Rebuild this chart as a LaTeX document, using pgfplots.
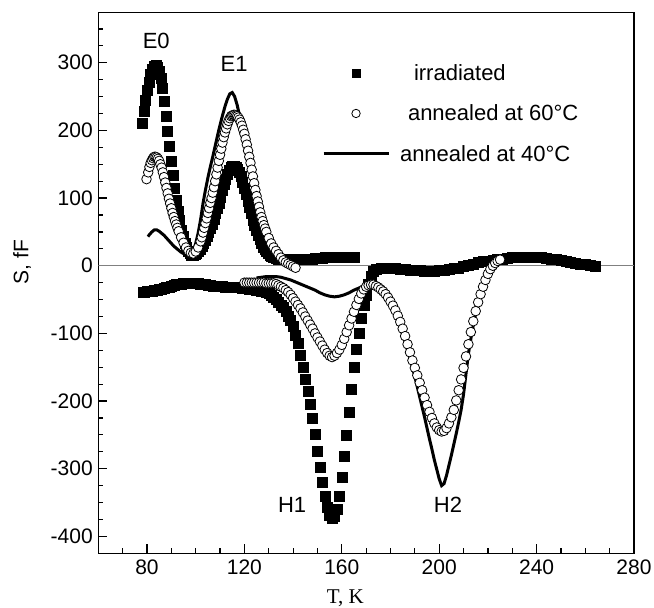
\documentclass[border=0pt]{standalone}
\usepackage{fontspec}
\setmainfont{Liberation Sans}
\newfontfamily\timesfont{Liberation Serif}
\usepackage{pgfplots}
\pgfplotsset{compat=1.18}
\begin{document}
\begin{tikzpicture}
\begin{axis}[
  scale only axis, width=535.7bp, height=540.6bp,
  xmin=60, xmax=280, ymin=-425, ymax=374,
  xtick={80,120,...,280}, minor xtick={70,80,...,270},
  ytick={-400,-300,...,300}, minor ytick={-375,-350,...,350},
  tick pos=left, tick align=inside,
  major tick length=9bp, minor tick length=5bp,
  axis line style={line width=1.4bp},
  every tick/.style={black, line width=1.2bp},
  /pgf/number format/assume math mode=true,
  tick label style={font=\fontsize{21bp}{25bp}\selectfont},
  xticklabel style={yshift=-3bp},
  yticklabel style={xshift=-2bp},
  xlabel={\timesfont T, K},
  xlabel style={at={(axis description cs:0.461,-0.0827)}, anchor=center, font=\fontsize{21bp}{25bp}\selectfont},
  ylabel={S, fF},
  ylabel style={at={(axis description cs:-0.142,0.539)}, anchor=center, font=\fontsize{21bp}{25bp}\selectfont},
  legend style={draw=none, fill=none, inner sep=0pt, at={(axis cs:151.8,298)}, anchor=north west,
    font=\fontsize{22bp}{26bp}\selectfont, row sep=23bp, column sep=10bp, nodes={inner sep=0pt}},
  legend cell align=left,
  legend image code/.code={\draw[mark repeat=2,mark phase=2,#1] plot coordinates {(0bp,0bp) (32.5bp,0bp) (65bp,0bp)};},
]
\addplot[gray, line width=0.8bp, forget plot] coordinates {(60,0) (280,0)};

% irradiated, upper branch
\addplot[only marks, mark=square*, mark size=5bp, black, forget plot] table {
78.0 210
78.7 228
79.4 245
80.1 259
80.8 272
81.5 283
82.2 290
82.9 295
83.6 296
84.3 294
85.0 288
85.7 277
86.4 262
87.1 243
87.8 221
88.5 199
89.2 177
89.9 155
90.6 134
91.3 115
92.0 97
92.7 81
93.4 67
94.1 53
94.8 43
95.5 34
96.2 27
96.9 22
97.6 18
98.3 16
99.0 16
99.7 17
100.4 19
101.1 22
101.8 25
102.5 29
103.2 33
103.9 38
104.6 43
105.3 49
106.0 55
106.7 62
107.4 69
108.1 77
108.8 85
109.5 93
110.2 102
110.9 111
111.6 120
112.3 128
113.0 135
113.7 141
114.4 145
115.1 147
115.8 147
116.5 146
117.2 143
117.9 138
118.6 132
119.3 124
120.0 115
120.7 106
121.4 96
122.1 86
122.8 77
123.5 68
124.2 60
124.9 52
125.6 45
126.3 39
127.0 33
127.7 28
128.4 24
129.1 21
129.8 18
130.5 16
131.2 14
132 12
133 11
134 10
135 9
136 9
137 9
138 9
139 9
140 9
141 9
142 9
143 10
144 10
145 10
146 10
147 10
148 10
149 11
150 11
151 11
152 11
153 12
154 12
155 12
156 12
157 12
158 12
159 13
160 13
161 13
162 13
163 13
164 13
165 13
};

% irradiated, lower branch
\addplot[only marks, mark=square*, mark size=5bp, black, forget plot] table {
78.5 -39
79 -38.5
80 -38
81 -37.5
82 -37
83 -36.5
84 -36
85 -35
86 -34
87 -33
88 -32
89 -31
90 -30
91 -29
92 -28
93 -27.5
94 -27
95 -26.5
96 -26
97 -26
98 -26
99 -26
100 -26
101 -26.5
102 -27
103 -27.5
104 -28
105 -28.5
106 -29
107 -29.5
108 -30
109 -30
110 -30
111 -30.5
112 -31
113 -31
114 -31
115 -31.5
116 -32
117 -32
118 -32
119 -32.5
120 -33
121 -33.5
122 -34
123 -34.5
124 -35
125 -35.5
126 -36
127 -37
128 -38
129 -39.5
130 -41
131 -43
132 -46
133 -50
134 -54
135 -58
136 -62
137 -67
138 -74
139 -81
140 -90
141 -102
142 -115
143 -132
144 -150
145 -168
146 -186
147 -204
148 -226
149 -249
150 -274
151 -298
152 -320
153 -341
154 -357
155 -368
156 -373
157 -370
158 -360
159 -340
160 -312
161 -282
162 -250
163 -217
164 -182
165 -150
166 -124
167 -100
168 -77
169 -58
170 -43
171 -28
172 -15
173 -8
174 -5
176 -4
178 -4
180 -4
182 -4
184 -5
186 -5
188 -6
190 -7
192 -7
194 -8
196 -8
198 -8
200 -7
202 -6
204 -5
206 -4
208 -3
210 -1
212 1
214 3
216 5
218 6
220 7
222 8
224 9
226 10
228 11
230 12
232 12
234 13
236 13
238 13
240 12
242 12
244 11
246 10
248 9
250 8
252 6
254 5
256 4
258 3
260 2
262 1
264 0
};

% annealed at 40 C, upper branch
\addplot[black, line width=3bp, forget plot] table {
80.4 43
81 46
82 50
83 53
84 53
85 51
86 48
87 45
88 41
89 37
90 33
91 29
92 26
93 23
94 20
95 18
96 16
97 15
98 15
99 22
100 33
101 48
102 68
103 92
104 112
105 130
106 146
107 161
108 177
109 193
110 208
111 222
112 235
113 246
114 254
115 256
116 250
117 238
118 222
119 205
120 190
121 174
122 157
123 139
124 120
125 102
126 86
127 71
128 59
129 49
130 40
131 32
132 26
134 17
136 10
138 6
140 4
};

% annealed at 40 C, lower branch
\addplot[black, line width=3bp, forget plot] table {
125 -18
127 -17
129 -16
131 -16
133 -16
135 -17
137 -19
139 -21
141 -24
143 -27
145 -30
147 -33
149 -36
151 -40
153 -43
155 -45
157 -46
159 -45
161 -43
163 -40
165 -36
167 -33
169 -30
171 -28
172 -28
173 -28
174 -30
175 -32
176 -35
177 -39
178 -44
179 -50
180 -57
181 -64
182 -72
183 -82
184 -92
185 -102
186 -113
187 -125
188 -137
189 -150
190 -164
191 -179
192 -194
193 -209
194 -224
195 -240
196 -256
197 -271
198 -287
199 -301
200 -315
201 -325
202 -322
203 -310
204 -295
205 -280
206 -264
207 -248
208 -231
209 -213
210 -190
211 -160
212 -130
213 -108
214 -88
215 -70
216 -55
217 -42
218 -30
219 -20
220 -11
221 -5
222 -1
};

% annealed at 60 C, upper branch
\addplot[only marks, mark=*, mark size=4.8bp, mark options={fill=white, draw=black, line width=0.8bp}, forget plot] table {
79.8 128
80.5 138
81.0 146
81.5 152
82.0 156
82.5 159
83.0 161
83.5 161
84.0 160
84.5 158
85.0 155
85.5 150
86.0 145
86.5 138
87.0 131
87.5 123
88.0 115
88.5 107
89.0 99
89.5 92
90.0 85
90.5 78
91.0 72
91.5 66
92.0 61
92.5 56
93.0 51
94 42
95 34
96 27
97 22
98 19
99 18
100 21
101 27
102 36
102.5 42
103 49
103.5 56
104 63
104.5 70
105 78
105.5 85
106 93
106.5 100
107 108
107.5 116
108 125
108.5 135
109 145
109.5 155
110 164
110.5 173
111 182
111.5 190
112 197
112.5 203
113 209
113.5 214
114 218
114.5 221
115 222
115.5 223
116 223
116.5 222
117 221
117.5 219
118 216
118.5 212
119 207
119.5 201
120 195
120.5 187
121 179
121.5 170
122 161
122.5 152
123 142
123.5 132
124 122
124.5 112
125 103
125.5 95
126 87
126.5 79
127 72
127.5 66
128 60
128.5 55
129 50
130 41
131 33
132 27
133 22
134 17
135 12
136 8
137 5
138 3
139 1
140 -1
141 -3
};

% annealed at 60 C, lower branch
\addplot[only marks, mark=*, mark size=4.8bp, mark options={fill=white, draw=black, line width=0.8bp}, forget plot] table {
120 -25
121 -25
122 -25
123 -25
124 -25
125 -25
126 -25
127 -25
128 -25
129 -26
130 -26
131 -26
132 -26
133 -27
134 -29
135 -31
136 -33
137 -36
138 -39
139 -43
140 -48
141 -53
142 -58
143 -63
144 -69
145 -75
146 -81
147 -87
148 -93
149 -100
150 -106
151 -112
152 -118
153 -124
154 -129
155 -133
156 -135
157 -133
158 -129
159 -124
160 -117
161 -108
162 -98
163 -88
164 -78
165 -68
166 -58
167 -49
168 -41
169 -35
170 -31
171 -29
172 -28
173 -28
174 -30
175 -32
176 -35
177 -38
178 -42
179 -47
180 -53
181 -59
182 -66
183 -74
184 -83
185 -93
186 -104
187 -116
188 -128
189 -140
190 -151
191 -162
192 -173
193 -184
194 -195
195 -206
196 -216
197 -225
198 -233
199 -239
200 -243
201 -245
202 -244
203 -240
204 -233
205 -224
206 -213
207 -199
208 -184
209 -168
210 -151
211 -134
212 -116
213 -98
214 -82
215 -67
216 -54
217 -42
218 -31
219 -21
220 -12
221 -5
222 0
223 4
224 7
225 9
};

\addlegendimage{only marks, mark=square*, mark size=4bp, black}
\addlegendentry{\hspace{14bp}irradiated}
\addlegendimage{only marks, mark=*, mark size=4.2bp, mark options={fill=white, draw=black, line width=0.8bp}}
\addlegendentry{\hspace{8bp}annealed at 60\textdegree C}
\addlegendimage{black, line width=3bp}
\addlegendentry{annealed at 40\textdegree C}

\node[font=\fontsize{22bp}{26bp}\selectfont] at (axis cs:83.8,333) {E0};
\node[font=\fontsize{22bp}{26bp}\selectfont] at (axis cs:115.8,299) {E1};
\node[font=\fontsize{22bp}{26bp}\selectfont] at (axis cs:139.6,-354) {H1};
\node[font=\fontsize{22bp}{26bp}\selectfont] at (axis cs:203.6,-354) {H2};
\end{axis}
\pgfresetboundingbox
\path[use as bounding box] ([shift={(-98.3bp,-54.7bp)}]current axis.south west) rectangle ([shift={(20bp,12.7bp)}]current axis.north east);
\end{tikzpicture}
\end{document}
